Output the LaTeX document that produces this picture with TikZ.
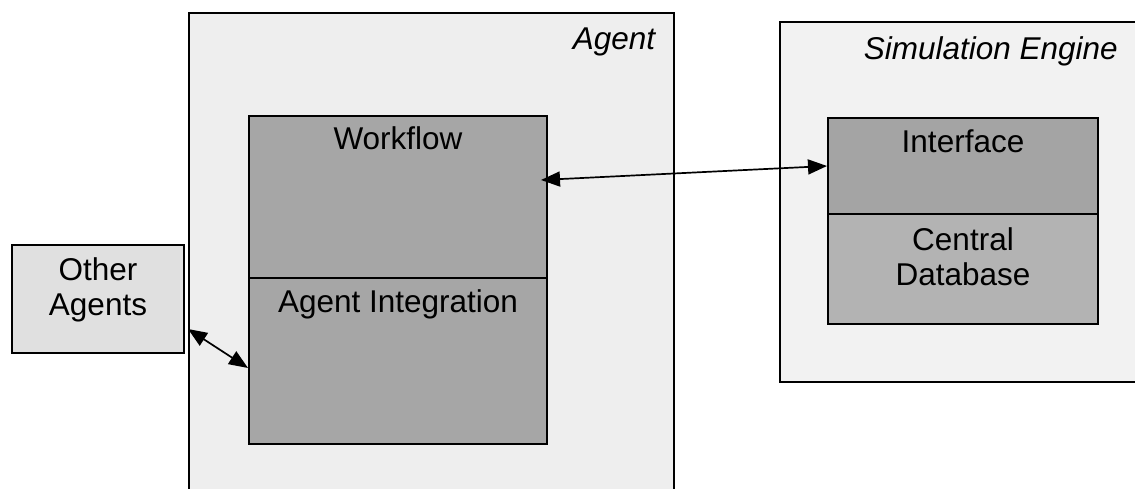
\documentclass[tikz,border=0pt]{standalone}
\usepackage{fontspec}
\setmainfont{Liberation Sans}
\usetikzlibrary{calc,arrows.meta}

\definecolor{agentbg}{HTML}{EEEEEE}
\definecolor{simbg}{HTML}{F2F2F2}
\definecolor{otherbg}{HTML}{E0E0E0}
\definecolor{layerdark}{HTML}{A6A6A6}
\definecolor{ifacefill}{HTML}{A4A4A4}
\definecolor{dbfill}{HTML}{B3B3B3}

\begin{document}
\begin{tikzpicture}[x=1pt,y=-1pt,
  box/.style={draw=black, line width=2pt, inner sep=0pt, anchor=north west},
  frame/.style={box, line width=2.4pt},
  lbl/.style={font=\fontsize{31.5}{35}\selectfont, inner sep=0pt, anchor=base, align=center},
  ttl/.style={font=\fontsize{31.5}{35}\selectfont\itshape, inner sep=0pt, anchor=base east},
  link/.style={line width=1.7pt, {Triangle[length=19pt,width=15pt]}-{Triangle[length=19pt,width=15pt]}}
]
\useasboundingbox (0,0) rectangle (1135,489);
\clip (0,0) rectangle (1135,489);

% Agent container and its two layers
\node[frame, fill=agentbg, minimum width=485pt, minimum height=488pt] (agent) at (188,12) {};
\node[ttl] (agentttl) at ($(agent.north east)+(-20,38)$) {Agent};
\node[box, fill=layerdark, minimum width=298pt, minimum height=162pt] (wf) at (248,115) {};
\node[box, fill=layerdark, minimum width=298pt, minimum height=166pt] (ai) at (248,277) {};
\node[lbl] (wft) at ($(wf.north)+(0,35)$) {Workflow};
\node[lbl] (ait) at ($(ai.north)+(0,35)$) {Agent Integration};

% Simulation engine container
\node[box, fill=simbg, minimum width=366pt, minimum height=360pt] (sim) at (779,21) {};
\node[ttl] (simttl) at (1118,60) {Simulation Engine};
\node[box, fill=ifacefill, minimum width=270pt, minimum height=96pt] (iface) at (827,117) {};
\node[box, fill=dbfill, minimum width=270pt, minimum height=110pt] (db) at (827,213) {};
\node[lbl] (ifacet) at ($(iface.north)+(0,36)$) {Interface};
% two-line labels sit on the baseline of their last line
\node[lbl] (dbt) at ($(db.north)+(0,72)$) {Central\\Database};

% Other agents
\node[box, fill=otherbg, minimum width=172pt, minimum height=108pt] (other) at (11,244) {};
\node[lbl] (othert) at ($(other.north)+(0,71)$) {Other\\Agents};

% Connectors
\draw[link] ($(wf.east)+(-7,-17)$) -- (iface.west);
\draw[link] ($(other.south east)+(3,-25)$) -- ($(ai.west)+(0,7)$);
\end{tikzpicture}
\end{document}
